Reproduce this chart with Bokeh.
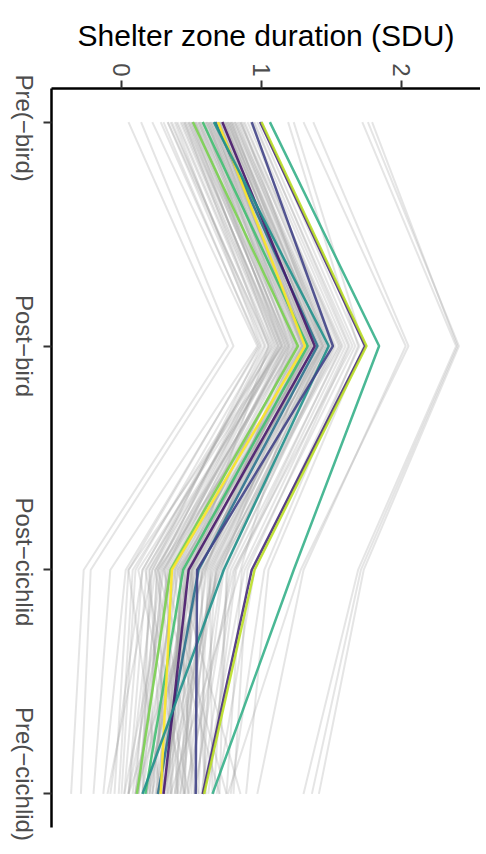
import math
from bokeh.plotting import figure
from bokeh.layouts import row
from bokeh.models import Range1d, FixedTicker, ColumnDataSource
from bokeh.embed import file_html
from bokeh.resources import INLINE

categories = ["Pre(\u2212bird)", "Post\u2212bird", "Post\u2212cichlid", "Pre(\u2212cichlid)"]
x_ticks = [0, 1, 2]

# Background (grey) individuals: value at each of the four phases
grey_pre_bird = [0.05, 0.14, 0.22, 0.28, 0.33,
                 0.30, 0.33, 0.35, 0.38, 0.40, 0.42, 0.44, 0.45, 0.47, 0.48,
                 0.50, 0.51, 0.52, 0.53, 0.55, 0.56, 0.57, 0.58, 0.60, 0.61,
                 0.62, 0.63, 0.64, 0.65, 0.66, 0.67, 0.68, 0.69, 0.70, 0.71,
                 0.72, 0.73, 0.74, 0.75, 0.76, 0.77, 0.78, 0.80, 0.81, 0.82,
                 0.84, 0.85, 0.87, 0.88, 0.90, 0.92, 0.94, 0.95, 0.97, 1.00,
                 0.55, 0.62, 0.45, 0.70, 0.79, 0.50, 0.59, 0.66, 0.74, 0.86,
                 1.19, 1.23, 1.30, 1.37, 1.72, 1.76, 1.79,
                 0.36, 0.39, 0.43, 0.46, 0.49, 0.52, 0.54, 0.56, 0.58, 0.60,
                 0.61, 0.63, 0.64, 0.66, 0.67, 0.69, 0.70, 0.72, 0.73, 0.75,
                 0.76, 0.78, 0.79, 0.81, 0.83, 0.85, 0.48, 0.53, 0.68, 0.77]
grey_post_bird = [0.76, 0.80, 0.97, 0.99, 1.06,
                  0.98, 1.02, 1.05, 1.00, 1.08, 1.10, 1.12, 1.15, 1.13, 1.18,
                  1.20, 1.16, 1.22, 1.19, 1.25, 1.21, 1.27, 1.24, 1.30, 1.28,
                  1.32, 1.26, 1.35, 1.31, 1.33, 1.37, 1.34, 1.40, 1.36, 1.42,
                  1.38, 1.44, 1.41, 1.46, 1.43, 1.48, 1.45, 1.50, 1.47, 1.52,
                  1.55, 1.53, 1.58, 1.56, 1.60, 1.62, 1.65, 1.63, 1.67, 1.70,
                  1.14, 1.20, 1.05, 1.29, 1.39, 1.09, 1.17, 1.23, 1.32, 1.44,
                  1.69, 1.73, 2.03, 2.05, 2.39, 2.41, 2.40,
                  1.03, 1.07, 1.11, 1.14, 1.17, 1.19, 1.23, 1.26, 1.29, 1.25,
                  1.31, 1.34, 1.29, 1.36, 1.32, 1.38, 1.41, 1.35, 1.43, 1.40,
                  1.46, 1.44, 1.49, 1.51, 1.48, 1.57, 1.12, 1.15, 1.30, 1.36]
grey_post_cichlid = [-0.27, -0.22, -0.08, 0.03, 0.15,
                     0.05, 0.10, 0.18, 0.22, 0.15, 0.25, 0.28, 0.20, 0.32, 0.30,
                     0.27, 0.35, 0.38, 0.33, 0.40, 0.36, 0.45, 0.42, 0.39, 0.48,
                     0.44, 0.50, 0.46, 0.52, 0.41, 0.55, 0.49, 0.58, 0.43, 0.60,
                     0.53, 0.62, 0.47, 0.65, 0.57, 0.68, 0.51, 0.70, 0.63, 0.72,
                     0.66, 0.75, 0.78, 0.69, 0.82, 0.86, 0.80, 0.90, 0.88, 0.95,
                     0.12, 0.60, 0.50, 0.30, 0.35, 0.08, 0.17, 0.24, 0.85, 0.40,
                     1.02, 1.05, 1.30, 1.28, 1.69, 1.73, 1.71,
                     0.20, 0.26, 0.31, 0.24, 0.37, 0.29, 0.43, 0.34, 0.47, 0.38,
                     0.51, 0.42, 0.56, 0.45, 0.59, 0.50, 0.64, 0.54, 0.67, 0.48,
                     0.61, 0.73, 0.58, 0.76, 0.68, 0.81, 0.22, 0.05, 0.71, 0.26]
grey_pre_cichlid = [-0.36, -0.29, -0.20, -0.13, -0.08,
                    -0.05, 0.00, 0.05, 0.10, 0.02, 0.20, 0.08, 0.15, 0.25, 0.12,
                    0.30, 0.05, 0.18, 0.35, 0.22, 0.10, 0.28, 0.40, 0.15, 0.32,
                    0.20, 0.45, 0.25, 0.38, 0.12, 0.30, 0.50, 0.22, 0.35, 0.42,
                    0.18, 0.55, 0.28, 0.40, 0.60, 0.33, 0.45, 0.25, 0.65, 0.48,
                    0.38, 0.70, 0.52, 0.30, 0.62, 0.75, 0.45, 0.80, 0.58, 0.68,
                    0.45, 0.05, 0.60, 0.75, 0.10, -0.02, 0.48, 0.55, 0.35, 0.85,
                    0.78, 0.89, 0.97, 0.76, 1.30, 1.41, 1.36,
                    0.30, 0.12, 0.40, 0.05, 0.22, 0.15, 0.33, 0.02, 0.27, 0.52,
                    0.18, 0.36, 0.24, 0.44, 0.10, 0.31, 0.47, 0.26, 0.58, 0.20,
                    0.39, 0.53, 0.30, 0.66, 0.42, 0.57, -0.10, 0.28, 0.15, 0.70]

# Highlighted individuals
hl_colors = ["#7AD151", "#43BF71", "#2C728E", "#FDE725", "#481A6C",
             "#21918C", "#414487", "#472D7B", "#BBDF27", "#36B08A"]
hl_pre_bird = [0.51, 0.58, 0.67, 0.69, 0.72, 0.66, 0.93, 0.99, 1.00, 1.06]
hl_post_bird = [1.26, 1.33, 1.40, 1.31, 1.38, 1.48, 1.51, 1.74, 1.75, 1.84]
hl_post_cichlid = [0.35, 0.44, 0.55, 0.36, 0.48, 0.73, 0.54, 0.93, 0.95, 1.23]
hl_pre_cichlid = [0.11, 0.17, 0.26, 0.28, 0.30, 0.15, 0.53, 0.58, 0.59, 0.65]

cat_pos = list(range(len(categories)))

grey_xs = [list(v) for v in zip(grey_pre_bird, grey_post_bird, grey_post_cichlid, grey_pre_cichlid)]
grey_src = ColumnDataSource(dict(xs=grey_xs, ys=[cat_pos] * len(grey_xs)))
hl_xs = [list(v) for v in zip(hl_pre_bird, hl_post_bird, hl_post_cichlid, hl_pre_cichlid)]
hl_src = ColumnDataSource(dict(xs=hl_xs, ys=[cat_pos] * len(hl_xs), color=hl_colors))

# ---- layout / style constants ----
H = 846
TOP, BOTTOM = 88, 19
Y_TOP, Y_BOT = -0.15, 3.15
PX_PER_CAT = (H - TOP - BOTTOM) / (Y_BOT - Y_TOP)
LEFT_W = 40
MAIN_W = 440
X0 = -0.5
label_nudge_px = [6, 0, -8, -20]   # small vertical shifts of the category labels, as in the reference

p = figure(width=MAIN_W, height=H, output_backend="svg", toolbar_location=None,
           x_axis_location="above", y_axis_location="left",
           x_range=Range1d(X0, X0 + 429 / 140), y_range=Range1d(Y_BOT, Y_TOP),
           min_border_left=11, min_border_top=TOP, min_border_right=0, min_border_bottom=BOTTOM)
p.outline_line_color = None
p.xgrid.visible = False
p.ygrid.visible = False
p.background_fill_color = "white"
p.border_fill_color = "white"

p.multi_line(xs="xs", ys="ys", source=grey_src, line_color="#a0a0a0",
             line_alpha=0.28, line_width=2)
p.multi_line(xs="xs", ys="ys", source=hl_src, line_color="color",
             line_alpha=0.9, line_width=2.5)

xa = p.xaxis[0]
xa.ticker = FixedTicker(ticks=x_ticks)
xa.minor_tick_line_color = None
xa.major_label_orientation = -math.pi / 2
xa.axis_label = "Shelter zone duration (SDU)"
xa.axis_label_text_font = "Liberation Sans"
xa.axis_label_text_font_size = "30px"
xa.axis_label_text_font_style = "normal"
xa.axis_label_text_color = "black"
xa.axis_label_standoff = 8
xa.major_label_text_font = "Liberation Sans"
xa.major_label_text_font_size = "24px"
xa.major_label_text_color = "#4D4D4D"
xa.major_label_standoff = 4

ya = p.yaxis[0]
ya.ticker = FixedTicker(ticks=cat_pos)
ya.minor_tick_line_color = None
ya.major_label_text_font_size = "0px"
ya.major_label_text_color = None
ya.major_label_standoff = 0

for ax in (xa, ya):
    ax.axis_line_width = 2.5
    ax.axis_line_color = "black"
    ax.major_tick_line_color = "#333333"
    ax.major_tick_line_width = 2
    ax.major_tick_out = 8
    ax.major_tick_in = 0

# Left strip: a right-side axis whose rotated labels name the categories
lab = figure(width=LEFT_W, height=H, output_backend="svg", toolbar_location=None,
             x_axis_location=None, y_axis_location="right",
             x_range=Range1d(0, 1), y_range=Range1d(Y_BOT, Y_TOP),
             min_border_left=0, min_border_top=TOP, min_border_right=0, min_border_bottom=BOTTOM)
lab.outline_line_color = None
lab.xgrid.visible = False
lab.ygrid.visible = False
lab.background_fill_color = "white"
lab.border_fill_color = "white"
label_ticks = [pos + n / PX_PER_CAT for pos, n in zip(cat_pos, label_nudge_px)]
la = lab.yaxis[0]
la.ticker = FixedTicker(ticks=label_ticks)
la.major_label_overrides = {t: c for t, c in zip(label_ticks, categories)}
la.major_label_orientation = "parallel"
la.axis_line_color = None
la.major_tick_line_color = None
la.minor_tick_line_color = None
la.major_label_standoff = 3
la.major_label_text_font = "Liberation Sans"
la.major_label_text_font_size = "24px"
la.major_label_text_color = "#4D4D4D"

layout = row(lab, p, spacing=0)
open("out.html", "w").write(file_html(layout, INLINE))
